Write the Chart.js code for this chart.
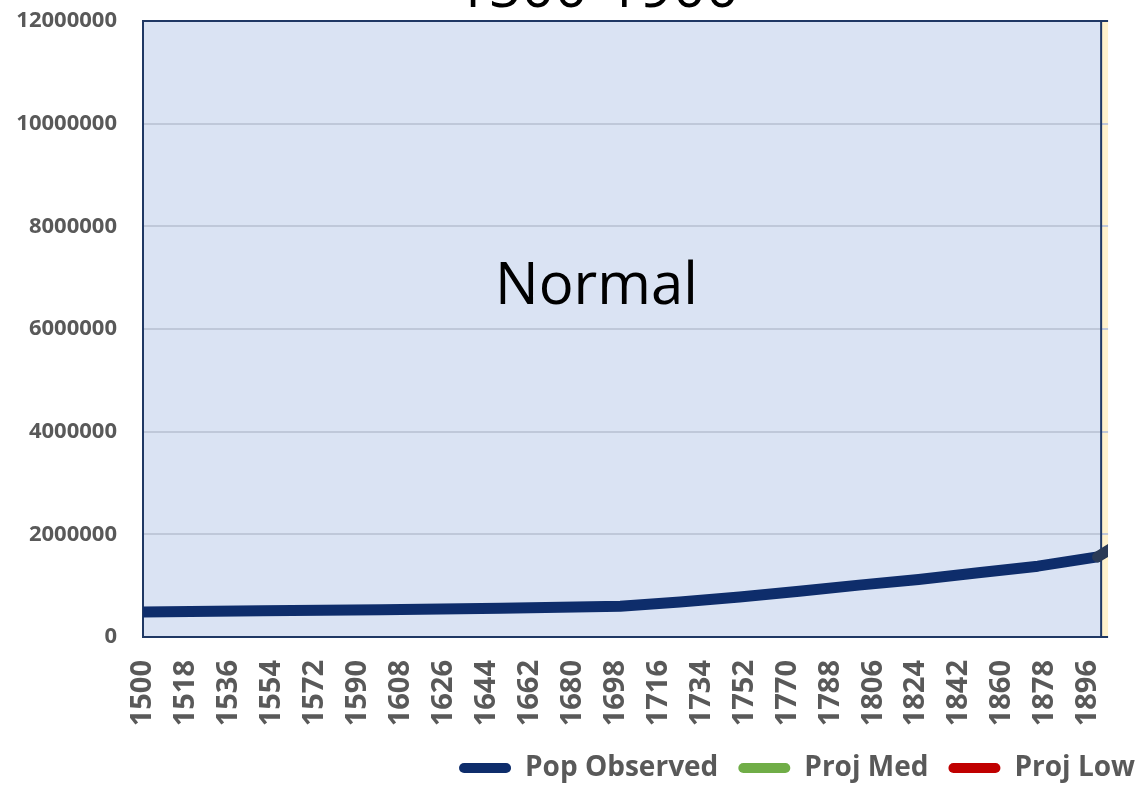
<!DOCTYPE html>
<html>
<head>
<meta charset="utf-8">
<title>1500-1900</title>
<script src="https://cdn.jsdelivr.net/npm/chart.js@4.4.1/dist/chart.umd.min.js"></script>
<style>
  html, body { margin: 0; padding: 0; background: #fff; overflow: hidden; }
  #wrap { width: 1155px; height: 792px; }
</style>
</head>
<body>
<div id="wrap"><canvas id="chartPop" width="1155" height="792"></canvas></div>
<script>
// data
const obsYears = [1500, 1550, 1600, 1650, 1700, 1725, 1750, 1775, 1800, 1825, 1850, 1875, 1900, 1910];
const obsPop = [485000, 510000, 530000, 560000, 600000, 680000, 780000, 890000, 1010000, 1120000, 1250000, 1380000, 1560000, 1850000];
const seriesNames = ["Pop Observed", "Proj Med", "Proj Low"];
const seriesColors = ["#0E2D6B", "#70AD47", "#C00000"];
const tickYears = [1500, 1518, 1536, 1554, 1572, 1590, 1608, 1626, 1644, 1662, 1680, 1698,
  1716, 1734, 1752, 1770, 1788, 1806, 1824, 1842, 1860, 1878, 1896];
const popTicks = [0, 2000000, 4000000, 6000000, 8000000, 10000000, 12000000];

const chartTitle = "1500-1900";
const zoneLabel = "Normal";
const zoneEnd = 1901.5;  // end of the blue "Normal" zone
const cropEnd = 1904.4;  // the original picture is cut here

Chart.defaults.font.family = "'Open Sans', sans-serif";
Chart.defaults.color = "#595959";

// blue / yellow zones, grid, frame and the two big texts
const plotDecor = {
  id: "plotDecor",
  beforeDatasetsDraw(chart) {
    const { ctx, chartArea: a, scales: { x, y } } = chart;
    const xZone = x.getPixelForValue(zoneEnd);
    const xCrop = x.getPixelForValue(cropEnd);
    ctx.save();
    ctx.fillStyle = "#DAE3F3";
    ctx.fillRect(a.left, a.top, xZone - a.left, a.bottom - a.top);
    ctx.fillStyle = "#FFF2CC";
    ctx.fillRect(xZone, a.top, xCrop - xZone, a.bottom - a.top);

    ctx.strokeStyle = "#BFC8D9";
    ctx.lineWidth = 2;
    y.ticks.forEach((t) => {
      const py = Math.round(y.getPixelForValue(t.value));
      ctx.beginPath();
      ctx.moveTo(a.left, py);
      ctx.lineTo(xCrop, py);
      ctx.stroke();
    });

    ctx.strokeStyle = "#1F3864";
    ctx.lineWidth = 2;
    ctx.beginPath();
    ctx.moveTo(xCrop, a.top);
    ctx.lineTo(a.left, a.top);
    ctx.lineTo(a.left, a.bottom);
    ctx.lineTo(xCrop, a.bottom);
    ctx.moveTo(xZone, a.top);
    ctx.lineTo(xZone, a.bottom);
    ctx.stroke();

    ctx.fillStyle = "#000";
    ctx.font = "58px 'Open Sans', sans-serif";
    ctx.textAlign = "center";
    ctx.textBaseline = "alphabetic";
    ctx.fillText(zoneLabel, x.getPixelForValue(1690), y.getPixelForValue(6480000));
    ctx.restore();

    // cut the line where the picture ends
    ctx.save();
    ctx.beginPath();
    ctx.rect(0, 0, xCrop, chart.height);
    ctx.clip();
  },
  afterDatasetsDraw(chart) {
    chart.ctx.restore();
  },
  afterDraw(chart) {
    const ctx = chart.ctx;
    ctx.save();
    ctx.fillStyle = "#000";
    ctx.font = "58px 'Open Sans', sans-serif";
    ctx.textAlign = "center";
    ctx.textBaseline = "alphabetic";
    ctx.fillText(chartTitle, 597, 7);
    ctx.restore();
  }
};

const datasets = seriesNames.map((name, i) => ({
  label: name,
  data: i === 0 ? obsYears.map((yr, k) => ({ x: yr, y: obsPop[k] })) : [],
  borderColor: seriesColors[i],
  backgroundColor: seriesColors[i],
  borderWidth: 11,
  borderCapStyle: "round",
  borderJoinStyle: "round",
  pointRadius: 0,
  tension: 0,
  segment: {
    borderColor: (c) => (c.p0.parsed.x >= 1900 ? "#2A3A56" : undefined)
  }
}));

new Chart(document.getElementById("chartPop"), {
  type: "line",
  data: { datasets: datasets },
  options: {
    responsive: false,
    animation: false,
    layout: { padding: { top: 21, left: 0, right: 0, bottom: 0 } },
    scales: {
      x: {
        type: "linear",
        min: 1500,
        max: 1924.07,
        grid: { display: false, drawTicks: false },
        border: { display: false },
        afterBuildTicks: (s) => { s.ticks = tickYears.map((v) => ({ value: v })); },
        afterFit: (s) => { s.height = 97; },
        ticks: {
          autoSkip: false,
          minRotation: 90,
          maxRotation: 90,
          padding: 23,
          color: "#595959",
          font: { size: 29, weight: "bold" },
          callback: (v) => String(v)
        }
      },
      y: {
        min: 0,
        max: 12000000,
        grid: { display: false, drawTicks: false },
        border: { display: false },
        afterBuildTicks: (s) => { s.ticks = popTicks.map((v) => ({ value: v })); },
        afterFit: (s) => { s.width = 143; s.paddingTop = 0; s.paddingBottom = 0; },
        ticks: {
          padding: 26,
          color: "#595959",
          font: { size: 22, weight: "bold" },
          callback: (v) => String(v)
        }
      }
    },
    plugins: {
      tooltip: { enabled: false },
      legend: {
        position: "bottom",
        align: "end",
        labels: {
          boxWidth: 52,
          boxHeight: 10,
          useBorderRadius: true,
          borderRadius: 5,
          padding: 20,
          color: "#595959",
          font: { size: 28, weight: "bold" },
          generateLabels: (chart) =>
            Chart.defaults.plugins.legend.labels.generateLabels(chart).map((l) => ({
              ...l, fillStyle: l.strokeStyle, lineWidth: 0
            }))
        }
      }
    }
  },
  plugins: [plotDecor]
});
</script>
</body>
</html>
